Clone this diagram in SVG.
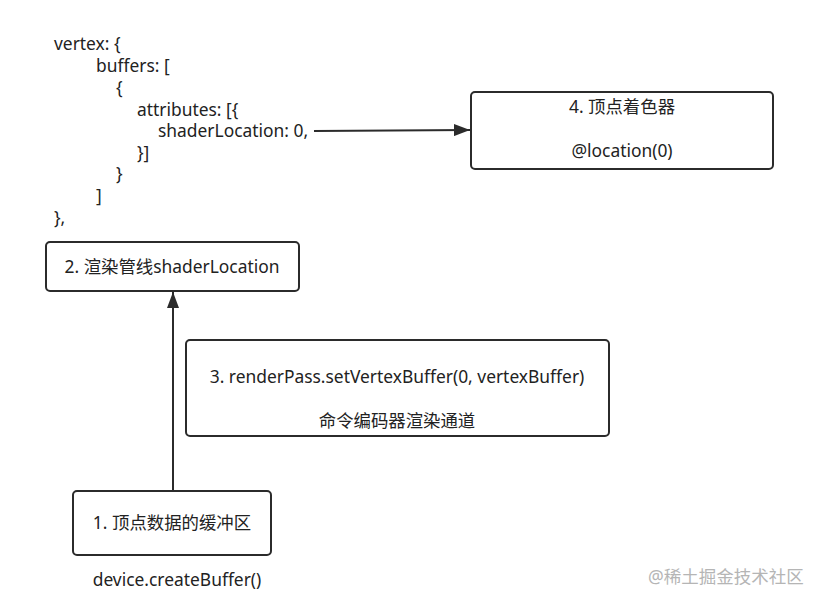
<svg xmlns="http://www.w3.org/2000/svg" width="820" height="604" viewBox="0 0 820 604">
<defs>
<style>
text{font-family:"Noto Sans","Noto Sans CJK SC",sans-serif;font-size:17.4px;fill:#222;}
.c{text-anchor:middle;}
.box{fill:#fff;stroke:#2b2b2b;stroke-width:2;}
.edge{stroke:#2b2b2b;stroke-width:2;fill:none;}
.wm{fill:#b5b5b5;font-size:17.5px;}
</style>
<marker id="arr" viewBox="0 0 16 12" refX="16" refY="6" markerWidth="16" markerHeight="12" markerUnits="userSpaceOnUse" orient="auto">
<path d="M0,0 L16,6 L0,12 z" fill="#2b2b2b"/>
</marker>
</defs>
<rect width="820" height="604" fill="#fff"/>
<g id="code">
<text x="54" y="50">vertex: {</text>
<text x="96" y="72">buffers: [</text>
<text x="116" y="94">{</text>
<text x="137" y="116">attributes: [{</text>
<text x="158" y="137">shaderLocation: 0,</text>
<text x="137" y="159">}]</text>
<text x="116" y="180">}</text>
<text x="96" y="202">]</text>
<text x="54" y="224">},</text>
</g>
<g id="connectors">
<line class="edge" x1="314" y1="131" x2="470" y2="130" marker-end="url(#arr)"/>
<line class="edge" x1="173" y1="490" x2="173" y2="292" marker-end="url(#arr)"/>
</g>
<g id="node4">
<rect class="box" x="471" y="92" width="302" height="77" rx="4"/>
<text class="c" x="622" y="113">4. 顶点着色器</text>
<text class="c" x="622" y="157">@location(0)</text>
</g>
<g id="node2">
<rect class="box" x="46" y="242" width="253" height="49" rx="4"/>
<text class="c" x="172" y="273">2. 渲染管线shaderLocation</text>
</g>
<g id="node3">
<rect class="box" x="186" y="340" width="423" height="96" rx="4"/>
<text class="c" x="397" y="383">3. renderPass.setVertexBuffer(0, vertexBuffer)</text>
<text class="c" x="397" y="427">命令编码器渲染通道</text>
</g>
<g id="node1">
<rect class="box" x="73" y="491" width="198" height="64" rx="4"/>
<text class="c" x="172" y="529">1. 顶点数据的缓冲区</text>
</g>
<g id="label1">
<text class="c" x="177" y="586">device.createBuffer()</text>
</g>
<text class="wm" x="648" y="583">@稀土掘金技术社区</text>
</svg>
